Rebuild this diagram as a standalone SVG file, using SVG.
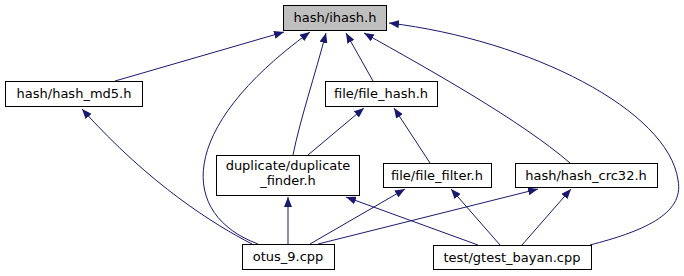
<svg xmlns="http://www.w3.org/2000/svg" width="684" height="276" viewBox="0 0 684 276">
  <defs>
    <marker id="arr" viewBox="0 0 10 8" refX="10" refY="4" markerWidth="10" markerHeight="8" orient="auto" markerUnits="userSpaceOnUse">
      <path d="M0,0 L10,4 L0,8 z" fill="#191970"/>
    </marker>
  </defs>
  <style>
    .node rect { fill: #ffffff; stroke: #000000; stroke-width: 1; }
    .node.root rect { fill: #bfbfbf; }
    .node text { font-family: "DejaVu Sans", sans-serif; font-size: 13px; fill: #000000; text-anchor: middle; }
    .edges path { fill: none; stroke: #191970; stroke-width: 1; marker-end: url(#arr); }
  </style>
  <rect width="684" height="276" fill="#ffffff"/>

  <g class="edges">
    <path d="M115,81 L284,32"/>
    <path d="M252,244 C215,225 150,185 82,109"/>
    <path d="M258,244 C180,215 175,130 310,32"/>
    <path d="M293,155 C300,120 315,75 326,33"/>
    <path d="M373,81 L346,33"/>
    <path d="M570,163 C520,120 430,70 364,33"/>
    <path d="M590,245 C640,232 685,215 678,180 C668,110 530,40 389,23"/>
    <path d="M308,155 L364,108"/>
    <path d="M430,163 L394,108"/>
    <path d="M288,244 L288,197"/>
    <path d="M478,245 L346,197"/>
    <path d="M310,244 L405,189"/>
    <path d="M500,245 L451,189"/>
    <path d="M318,244 L538,189"/>
    <path d="M522,245 L571,189"/>
  </g>

  <g id="ihash" class="node root">
    <rect x="283.5" y="5.5" width="103" height="25"/>
    <text x="335" y="22">hash/ihash.h</text>
  </g>
  <g id="hash_md5" class="node">
    <rect x="5.5" y="81.5" width="137" height="25"/>
    <text x="74" y="98">hash/hash_md5.h</text>
  </g>
  <g id="file_hash" class="node">
    <rect x="325.5" y="81.5" width="112" height="25"/>
    <text x="381" y="98">file/file_hash.h</text>
  </g>
  <g id="duplicate_finder" class="node">
    <rect x="216.5" y="155.5" width="143" height="40"/>
    <text x="288" y="170">duplicate/duplicate</text>
    <text x="288" y="185">_finder.h</text>
  </g>
  <g id="file_filter" class="node">
    <rect x="383.5" y="163.5" width="108" height="24"/>
    <text x="437" y="180">file/file_filter.h</text>
  </g>
  <g id="hash_crc32" class="node">
    <rect x="515.5" y="163.5" width="142" height="24"/>
    <text x="586" y="180">hash/hash_crc32.h</text>
  </g>
  <g id="otus_9" class="node">
    <rect x="242.5" y="244.5" width="92" height="25"/>
    <text x="288" y="261">otus_9.cpp</text>
  </g>
  <g id="gtest_bayan" class="node">
    <rect x="433.5" y="245.5" width="158" height="24"/>
    <text x="512" y="262">test/gtest_bayan.cpp</text>
  </g>
</svg>
